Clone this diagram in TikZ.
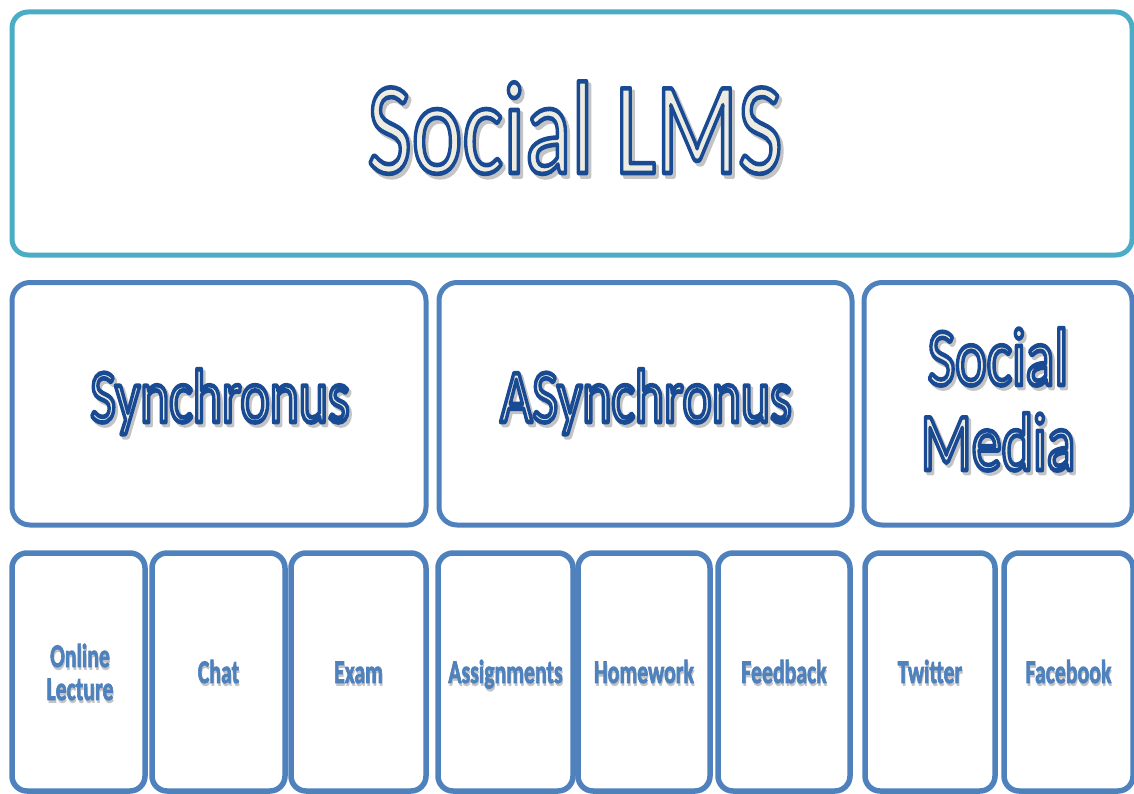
\documentclass[tikz,border=0pt]{standalone}
\usepackage{fontspec}
\setmainfont{Carlito}
\usepackage{graphicx}
\definecolor{tealline}{HTML}{4BACC6}
\definecolor{blueline}{HTML}{4F81BD}
\definecolor{cream}{HTML}{EEECE1}
\definecolor{shadowgray}{HTML}{C4C4C4}
% outlined text: cream fill, dark blue stroke (PDF text render mode 2)
\newcommand{\bigtitle}[2]{%
  \fontsize{#1}{#1}\selectfont\scalebox{0.73}[1]{\color{cream}\special{pdf:literal direct 2 Tr 4.6 w 1 j 0.10 0.29 0.58 RG}#2\special{pdf:literal direct 0 Tr 1 w 0 j}}}
\newcommand{\bigshadow}[2]{%
  \fontsize{#1}{#1}\selectfont\scalebox{0.73}[1]{\color{shadowgray}\special{pdf:literal direct 2 Tr 4.6 w 1 j 0.77 0.77 0.77 RG}#2\special{pdf:literal direct 0 Tr 1 w 0 j}}}
\newcommand{\smalltxt}[1]{\scalebox{0.66}[1]{\special{pdf:literal direct 2 Tr 0.9 w 0.31 0.51 0.74 RG}#1\special{pdf:literal direct 0 Tr 1 w}}}
\begin{document}
\begin{tikzpicture}[x=1pt,y=-1pt,
  lmsbox/.style={draw=tealline, line width=5pt, rounded corners=16pt, fill=white, inner sep=0pt},
  catbox/.style={draw=blueline, line width=5pt, rounded corners=18pt, fill=white, inner sep=0pt},
  itembox/.style={draw=blueline, line width=5.5pt, rounded corners=15pt, fill=white, inner sep=0pt},
  itemtxt/.style={text=blueline, font=\bfseries\fontsize{33}{33}\selectfont, align=center, anchor=base, inner sep=0pt},
  itemshadow/.style={text=shadowgray, font=\bfseries\fontsize{33}{33}\selectfont, align=center, anchor=base, inner sep=0pt},
  ttl/.style={anchor=base, inner sep=0pt}
]
\useasboundingbox (0,0) rectangle (1134,794);
\clip (0,0) rectangle (1134,794);
% top box
\node[lmsbox, minimum width=1120pt, minimum height=243pt] (lms) at (572,133.5) {};
% category boxes
\node[catbox, minimum width=414pt, minimum height=242.5pt] (sync) at (219,403.75) {};
\node[catbox, minimum width=413pt, minimum height=242.5pt] (async) at (645.5,403.75) {};
\node[catbox, minimum width=268pt, minimum height=242.5pt] (smedia) at (998,403.75) {};
% item boxes
\node[itembox, minimum width=133pt, minimum height=238pt] (b1) at (78.5,672) {};
\node[itembox, minimum width=133pt, minimum height=238pt] (b2) at (218.5,672) {};
\node[itembox, minimum width=135pt, minimum height=238pt] (b3) at (358.5,672) {};
\node[itembox, minimum width=135pt, minimum height=238pt] (b4) at (505.5,672) {};
\node[itembox, minimum width=132pt, minimum height=238pt] (b5) at (644,672) {};
\node[itembox, minimum width=132pt, minimum height=238pt] (b6) at (784,672) {};
\node[itembox, minimum width=130pt, minimum height=238pt] (b7) at (930,672) {};
\node[itembox, minimum width=129pt, minimum height=238pt] (b8) at (1068.5,672) {};
% titles with soft shadow
\node[ttl] (lmsshadow) at (578,176.5) {\bigshadow{132}{Social LMS}};
\node[ttl] (lmstext) at (575,173) {\bigtitle{132}{Social LMS}};
\node[ttl] (syncshadow) at (222.5,425) {\bigshadow{76}{Synchronus}};
\node[ttl] (synctext) at (220,422) {\bigtitle{76}{Synchronus}};
\node[ttl] (asyncshadow) at (648.5,425) {\bigshadow{76}{ASynchronus}};
\node[ttl] (asynctext) at (646,422) {\bigtitle{76}{ASynchronus}};
\node[ttl] (smshadow1) at (1000.5,388) {\bigshadow{82}{Social}};
\node[ttl] (smtext1) at (998,385) {\bigtitle{82}{Social}};
\node[ttl] (smshadow2) at (1000.5,473) {\bigshadow{82}{Media}};
\node[ttl] (smtext2) at (998,470) {\bigtitle{82}{Media}};
% item labels
\foreach \n/\x/\t in {b2/218.5/Chat, b3/358.5/Exam, b4/505.5/Assignments, b5/644/Homework, b6/784/Feedback, b7/930/Twitter, b8/1068.5/Facebook}{
  \node[itemshadow] (\n s) at (\x+1,686) {\scalebox{0.66}[1]{\t}};
  \node[itemtxt] (\n t) at (\x,683) {\smalltxt{\t}};
}
\node[itemshadow] (b1s1) at (81,670) {\scalebox{0.66}[1]{Online}};
\node[itemtxt] (b1t1) at (80,667) {\smalltxt{Online}};
\node[itemshadow] (b1s2) at (81,703) {\scalebox{0.66}[1]{Lecture}};
\node[itemtxt] (b1t2) at (80,700) {\smalltxt{Lecture}};
\end{tikzpicture}
\end{document}
